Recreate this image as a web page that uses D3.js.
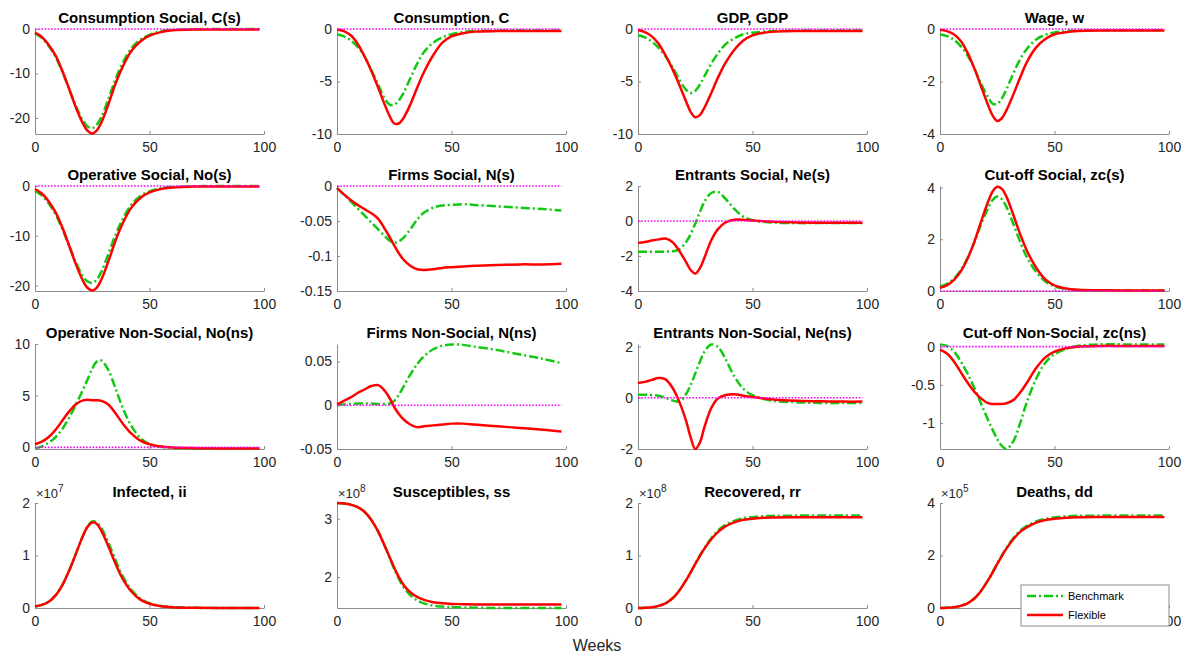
<!DOCTYPE html>
<html>
<head>
<meta charset="utf-8">
<script src="https://cdn.jsdelivr.net/npm/d3@7"></script>
<style>
  body { margin: 0; background: #fff; }
  svg { font-family: "Liberation Sans", Arial, sans-serif; }
  .tick text { fill: #262626; }
  .title { font-size: 15px; font-weight: bold; fill: #000; }
</style>
</head>
<body>
<svg id="fig" width="1192" height="657"></svg>
<script>
var weeks = [0,3,6,9,12,15,18,21,23,25,27,29,32,35,38,42,46,50,55,60,70,80,90,98];

var titles = ["Consumption Social, C(s)", "Consumption, C", "GDP, GDP", "Wage, w",
  "Operative Social, No(s)", "Firms Social, N(s)", "Entrants Social, Ne(s)", "Cut-off Social, zc(s)",
  "Operative Non-Social, No(ns)", "Firms Non-Social, N(ns)", "Entrants Non-Social, Ne(ns)", "Cut-off Non-Social, zc(ns)",
  "Infected, ii", "Susceptibles, ss", "Recovered, rr", "Deaths, dd"];

var yDomains = [[-23.6,0],[-10,0],[-10,0],[-4,0],
  [-21.1,0],[-0.15,0],[-4,2],[0,4.06],
  [-0.16,10],[-0.05,0.07],[-2,2.1],[-1.34,0.035],
  [0,2],[1.47,3.27],[0,2],[0,4]];

var yTicks = [[-20,-10,0],[-10,-5,0],[-10,-5,0],[-4,-2,0],
  [-20,-10,0],[-0.15,-0.1,-0.05,0],[-4,-2,0,2],[0,2,4],
  [0,5,10],[-0.05,0,0.05],[-2,0,2],[-1,-0.5,0],
  [0,1,2],[2,3],[0,1,2],[0,2,4]];

var xTicks = [0, 50, 100];
var exponents = [null,null,null,null, null,null,null,null, null,null,null,null, 7,8,8,5];

var cSocialBench = [-1.0,-2.0,-3.8,-6.3,-9.7,-13.6,-17.5,-20.6,-21.9,-22.3,-21.5,-19.8,-15.8,-11.5,-7.9,-4.4,-2.4,-1.3,-0.5,-0.2,-0.05,0,0,0];
var cSocialFlex = [-0.8,-1.8,-3.6,-6.0,-9.5,-13.6,-17.8,-21.3,-22.9,-23.5,-22.8,-21.0,-17.0,-12.5,-8.8,-5.0,-2.8,-1.5,-0.7,-0.3,-0.1,-0.1,-0.1,-0.1];
var cBench = [-0.5,-0.7,-1.1,-1.7,-2.6,-3.9,-5.3,-6.7,-7.2,-7.2,-6.8,-6.1,-4.7,-3.3,-2.2,-1.3,-0.8,-0.5,-0.3,-0.2,-0.15,-0.15,-0.15,-0.15];
var cFlex = [-0.05,-0.2,-0.6,-1.4,-2.6,-4.0,-5.6,-7.3,-8.3,-9.0,-9.0,-8.5,-7.2,-5.6,-4.1,-2.5,-1.3,-0.7,-0.4,-0.25,-0.2,-0.2,-0.2,-0.2];
var gdpBench = [-0.6,-0.8,-1.2,-1.8,-2.6,-3.6,-4.8,-5.8,-6.1,-5.9,-5.3,-4.5,-3.3,-2.3,-1.5,-0.9,-0.5,-0.35,-0.25,-0.2,-0.15,-0.15,-0.15,-0.15];
var gdpFlex = [-0.1,-0.3,-0.7,-1.4,-2.5,-3.8,-5.3,-6.9,-7.9,-8.4,-8.2,-7.5,-6.1,-4.6,-3.3,-2.0,-1.1,-0.6,-0.35,-0.25,-0.2,-0.2,-0.2,-0.2];
var wageBench = [-0.2,-0.27,-0.4,-0.65,-1.0,-1.5,-2.1,-2.6,-2.85,-2.85,-2.65,-2.3,-1.7,-1.15,-0.75,-0.4,-0.22,-0.13,-0.08,-0.06,-0.05,-0.05,-0.05,-0.05];
var wageFlex = [-0.03,-0.08,-0.2,-0.45,-0.9,-1.5,-2.2,-2.9,-3.3,-3.5,-3.4,-3.1,-2.5,-1.85,-1.25,-0.7,-0.38,-0.2,-0.12,-0.08,-0.06,-0.06,-0.06,-0.06];

var noSocialBench = [-1.0,-1.9,-3.5,-5.7,-8.7,-12.1,-15.5,-18.2,-19.2,-19.5,-18.8,-17.2,-13.7,-10.0,-6.9,-3.8,-2.0,-1.1,-0.45,-0.2,-0.05,0,0,0];
var noSocialFlex = [-0.6,-1.5,-3.1,-5.3,-8.4,-12.1,-15.9,-19.1,-20.5,-21.0,-20.4,-18.8,-15.2,-11.2,-7.8,-4.4,-2.4,-1.3,-0.6,-0.3,-0.1,-0.1,-0.1,-0.1];
var nSocialBench = [-0.003,-0.012,-0.022,-0.032,-0.042,-0.052,-0.062,-0.072,-0.078,-0.081,-0.079,-0.074,-0.062,-0.048,-0.038,-0.031,-0.028,-0.027,-0.026,-0.027,-0.029,-0.031,-0.033,-0.035];
var nSocialFlex = [-0.003,-0.012,-0.02,-0.027,-0.033,-0.039,-0.047,-0.062,-0.073,-0.085,-0.096,-0.105,-0.114,-0.119,-0.12,-0.119,-0.117,-0.116,-0.115,-0.114,-0.113,-0.112,-0.112,-0.111];
var neSocialBench = [-1.75,-1.75,-1.75,-1.75,-1.75,-1.73,-1.62,-1.2,-0.75,-0.15,0.5,1.1,1.6,1.65,1.3,0.7,0.25,0.05,-0.05,-0.1,-0.12,-0.12,-0.12,-0.12];
var neSocialFlex = [-1.25,-1.2,-1.12,-1.05,-1.0,-1.2,-1.7,-2.35,-2.8,-3.0,-2.7,-2.1,-1.1,-0.45,-0.1,0.07,0.07,0.03,-0.02,-0.05,-0.08,-0.1,-0.1,-0.1];
var zcSocialBench = [0.18,0.28,0.47,0.8,1.27,1.88,2.6,3.2,3.52,3.65,3.55,3.25,2.6,1.9,1.3,0.73,0.37,0.18,0.08,0.04,0.03,0.03,0.03,0.03];
var zcSocialFlex = [0.12,0.22,0.42,0.75,1.25,1.9,2.7,3.45,3.85,4.03,3.95,3.65,2.95,2.2,1.55,0.9,0.45,0.22,0.1,0.05,0.03,0.02,0.02,0.02];

var noNonSocialBench = [-0.1,0.1,0.45,1.0,1.8,2.9,4.2,5.6,6.6,7.6,8.3,8.4,7.5,5.8,4.0,2.1,0.9,0.3,0.05,-0.05,-0.1,-0.1,-0.1,-0.1];
var noNonSocialFlex = [0.3,0.55,1.0,1.7,2.6,3.5,4.2,4.55,4.6,4.55,4.55,4.5,4.15,3.35,2.4,1.35,0.65,0.3,0.08,-0.02,-0.08,-0.1,-0.1,-0.1];
var nNonSocialBench = [0,0.001,0.0015,0.002,0.002,0.002,0.0015,0.0015,0.002,0.005,0.012,0.021,0.035,0.047,0.056,0.064,0.068,0.0695,0.069,0.067,0.063,0.058,0.053,0.048];
var nNonSocialFlex = [0.001,0.005,0.009,0.014,0.018,0.022,0.023,0.016,0.008,-0.002,-0.01,-0.016,-0.022,-0.025,-0.024,-0.023,-0.022,-0.021,-0.021,-0.022,-0.024,-0.026,-0.028,-0.03];
var neNonSocialBench = [0.12,0.12,0.1,0.08,0.0,-0.1,-0.15,0.15,0.5,0.95,1.4,1.8,2.08,1.98,1.55,0.85,0.35,0.1,-0.05,-0.13,-0.18,-0.2,-0.2,-0.2];
var neNonSocialFlex = [0.58,0.62,0.7,0.77,0.72,0.4,-0.15,-0.9,-1.55,-2.0,-1.75,-1.15,-0.4,-0.02,0.1,0.14,0.08,0.03,-0.03,-0.08,-0.12,-0.14,-0.15,-0.15];
var zcNonSocialBench = [0.03,0.01,-0.06,-0.19,-0.35,-0.54,-0.75,-0.96,-1.09,-1.21,-1.3,-1.34,-1.24,-1.0,-0.72,-0.42,-0.21,-0.1,-0.03,0.01,0.03,0.03,0.03,0.03];
var zcNonSocialFlex = [-0.04,-0.09,-0.19,-0.33,-0.47,-0.59,-0.68,-0.74,-0.75,-0.75,-0.75,-0.74,-0.7,-0.6,-0.47,-0.28,-0.14,-0.065,-0.02,0,0.01,0.01,0.01,0.01];

var infectedBench = [0.03,0.06,0.12,0.24,0.44,0.72,1.05,1.38,1.56,1.65,1.63,1.52,1.25,0.93,0.63,0.35,0.18,0.09,0.04,0.017,0.004,0.001,0,0];
var infectedFlex = [0.03,0.06,0.12,0.24,0.44,0.72,1.05,1.38,1.55,1.63,1.6,1.47,1.18,0.86,0.58,0.32,0.16,0.08,0.035,0.015,0.004,0.001,0,0];
var susceptBench = [3.27,3.26,3.24,3.2,3.12,2.98,2.78,2.52,2.33,2.14,1.97,1.83,1.69,1.6,1.55,1.51,1.495,1.485,1.48,1.475,1.47,1.47,1.47,1.47];
var susceptFlex = [3.27,3.26,3.24,3.2,3.12,2.98,2.78,2.52,2.34,2.16,2.0,1.87,1.74,1.66,1.61,1.57,1.55,1.54,1.535,1.53,1.53,1.53,1.53,1.53];
var recovBench = [0,0.005,0.015,0.04,0.09,0.18,0.33,0.53,0.68,0.84,1.0,1.14,1.33,1.48,1.58,1.66,1.71,1.73,1.75,1.755,1.76,1.76,1.76,1.76];
var recovFlex = [0,0.005,0.015,0.04,0.09,0.18,0.33,0.53,0.68,0.84,0.99,1.13,1.31,1.45,1.55,1.63,1.68,1.7,1.72,1.725,1.73,1.73,1.73,1.73];
var deathsBench = [0,0.01,0.03,0.08,0.18,0.36,0.66,1.06,1.36,1.69,2.0,2.29,2.66,2.95,3.13,3.3,3.4,3.45,3.49,3.51,3.52,3.52,3.52,3.52];
var deathsFlex = [0,0.01,0.03,0.08,0.18,0.36,0.66,1.06,1.36,1.68,1.98,2.26,2.62,2.9,3.08,3.25,3.35,3.4,3.44,3.46,3.47,3.47,3.47,3.47];

var benchSeries = [cSocialBench, cBench, gdpBench, wageBench, noSocialBench, nSocialBench, neSocialBench, zcSocialBench,
  noNonSocialBench, nNonSocialBench, neNonSocialBench, zcNonSocialBench, infectedBench, susceptBench, recovBench, deathsBench];
var flexSeries = [cSocialFlex, cFlex, gdpFlex, wageFlex, noSocialFlex, nSocialFlex, neSocialFlex, zcSocialFlex,
  noNonSocialFlex, nNonSocialFlex, neNonSocialFlex, zcNonSocialFlex, infectedFlex, susceptFlex, recovFlex, deathsFlex];

var svg = d3.select("#fig"),
    colLeft = [35, 337, 638, 940],
    rowTop = [29, 186, 344, 503],
    w = 229,
    h = 105,
    green = "#12c812",
    red = "#ff0000",
    magenta = "#ff00ff";

titles.forEach(function(title, i) {
  var row = Math.floor(i / 4), col = i % 4;
  var g = svg.append("g")
      .attr("transform", "translate(" + colLeft[col] + "," + rowTop[row] + ")");

  var x = d3.scaleLinear().domain([0, 100]).range([0, w]);
  var y = d3.scaleLinear().domain(yDomains[i]).range([h, 0]);

  var xAxis = g.append("g")
      .attr("transform", "translate(0," + h + ")")
      .call(d3.axisBottom(x).tickValues(xTicks).tickSizeInner(-3).tickSizeOuter(0).tickPadding(8)
        .tickFormat(function(d) { return String(d); }));
  var yAxis = g.append("g")
      .call(d3.axisLeft(y).tickValues(yTicks[i]).tickSizeInner(-3).tickSizeOuter(0).tickPadding(5)
        .tickFormat(function(d) { return String(d); }));
  [xAxis, yAxis].forEach(function(a) {
    a.select(".domain").attr("stroke", "#8c8c8c").attr("stroke-width", 1);
    a.selectAll(".tick line").attr("stroke", "#8c8c8c");
    a.selectAll(".tick text").attr("font-family", "Liberation Sans, Arial, sans-serif").attr("font-size", 14);
  });
  xAxis.selectAll(".tick text").attr("dy", "0.71em");

  var line = d3.line()
      .x(function(d, k) { return x(weeks[k]); })
      .y(function(d) { return y(d); })
      .curve(d3.curveCatmullRom.alpha(0.5));

  g.append("path")
      .attr("d", line(benchSeries[i]))
      .attr("fill", "none")
      .attr("stroke", green)
      .attr("stroke-width", 2.5)
      .attr("stroke-dasharray", "9,3,2,3");

  g.append("path")
      .attr("d", line(flexSeries[i]))
      .attr("fill", "none")
      .attr("stroke", red)
      .attr("stroke-width", 2.5);

  if (row < 3) {
    g.append("line")
        .attr("x1", x(0)).attr("x2", x(98))
        .attr("y1", y(0)).attr("y2", y(0))
        .attr("stroke", magenta)
        .attr("stroke-width", 1.6)
        .attr("stroke-dasharray", "1.6,1.6");
  }

  g.append("text")
      .attr("class", "title")
      .attr("x", w / 2)
      .attr("y", -6)
      .attr("text-anchor", "middle")
      .text(title);

  if (exponents[i]) {
    var ex = g.append("text")
        .attr("x", 1)
        .attr("y", -5)
        .attr("font-size", 13)
        .attr("fill", "#262626");
    ex.append("tspan").text("\u00d710");
    ex.append("tspan").attr("dy", -6).attr("font-size", 10).text(exponents[i]);
  }

  if (i === 15) {
    var leg = g.append("g").attr("transform", "translate(" + (w - 148) + "," + (h - 23) + ")");
    leg.append("rect")
        .attr("width", 148).attr("height", 41)
        .attr("fill", "#fff").attr("stroke", "#8c8c8c").attr("stroke-width", 1);
    [["Benchmark", green, "9,3,2,3"], ["Flexible", red, null]].forEach(function(e, k) {
      leg.append("line")
          .attr("x1", 6).attr("x2", 42)
          .attr("y1", 11 + k * 19).attr("y2", 11 + k * 19)
          .attr("stroke", e[1]).attr("stroke-width", 2.5)
          .attr("stroke-dasharray", e[2]);
      leg.append("text")
          .attr("x", 47).attr("y", 15 + k * 19)
          .attr("font-size", 11).attr("fill", "#000")
          .text(e[0]);
    });
  }
});

svg.append("text")
    .attr("x", 597)
    .attr("y", 651)
    .attr("text-anchor", "middle")
    .attr("font-size", 16)
    .attr("fill", "#262626")
    .text("Weeks");
</script>
</body>
</html>
